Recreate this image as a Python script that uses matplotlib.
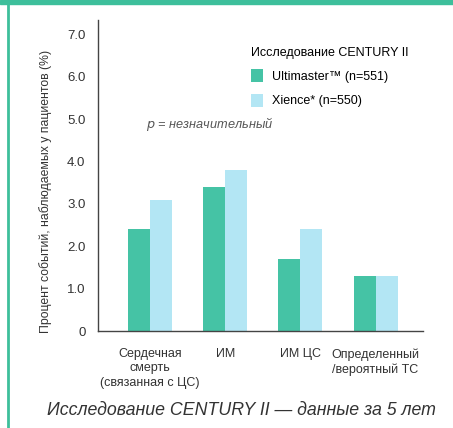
import matplotlib
matplotlib.use('Agg')
import matplotlib.pyplot as plt
import numpy as np

plt.rcParams['font.family'] = ['Liberation Sans', 'DejaVu Sans']

# Data
categories = ['Сердечная\nсмерть\n(связанная с ЦС)', 'ИМ', 'ИМ ЦС',
              'Определенный\n/вероятный ТС']
ultimaster = [2.4, 3.4, 1.7, 1.3]
xience = [3.1, 3.8, 2.4, 1.3]
yticks = [0, 1, 2, 3, 4, 5, 6, 7]
ytick_labels = ['0', '1.0', '2.0', '3.0', '4.0', '5.0', '6.0', '7.0']

green = '#45c3a5'
light = '#b3e6f4'
frame = '#3dbf9b'

fig = plt.figure(figsize=(4.53, 4.28), dpi=100)
ax = fig.add_axes([0.2163, 0.2255, 0.7175, 0.7278])

x = np.arange(len(categories))
w = 0.293
ax.bar(x - w / 2, ultimaster, w, color=green, label='Ultimaster™ (n=551)')
ax.bar(x + w / 2, xience, w, color=light, label='Xience* (n=550)')

ax.set_xlim(-0.69, 3.63)
ax.set_ylim(0, 7.33)
ax.set_yticks(yticks)
ax.set_yticklabels(ytick_labels, fontsize=9.5, color='#333333')
ax.set_xticks(x)
ax.set_xticklabels(categories, fontsize=9, color='#333333', linespacing=1.25)
ax.tick_params(axis='x', length=0, pad=12)
ax.tick_params(axis='y', length=0, pad=9)
for s in ['top', 'right']:
    ax.spines[s].set_visible(False)
for s in ['left', 'bottom']:
    ax.spines[s].set_color('#444444')
    ax.spines[s].set_linewidth(1.0)

ax.set_ylabel('Процент событий, наблюдаемых у пациентов (%)', fontsize=8.8,
              color='#333333')
ax.yaxis.set_label_coords(-0.142, 0.451)

leg = ax.legend(title='Исследование CENTURY II', loc='upper left',
                bbox_to_anchor=(0.435, 0.95), frameon=False, fontsize=9,
                title_fontsize=9, handlelength=1.0, handleheight=1.2,
                handletextpad=0.75, labelspacing=0.85)
leg._legend_box.align = 'left'

ax.text(-0.05, 4.88, '$p$ = незначительный', fontsize=9.2, style='italic',
        color='#555555', va='center')

fig.text(0.532, 0.042, 'Исследование CENTURY II — данные за 5 лет',
         fontsize=12.8, style='italic', ha='center', va='center',
         color='#333333')

# teal frame at top and left
fig.add_artist(plt.Rectangle((0, 0.99), 1, 0.01, transform=fig.transFigure,
                             color=frame))
fig.add_artist(plt.Line2D([0.017, 0.017], [0.0, 0.99],
                          transform=fig.transFigure, color=frame, lw=2))

fig.savefig('out.png', dpi=100)
